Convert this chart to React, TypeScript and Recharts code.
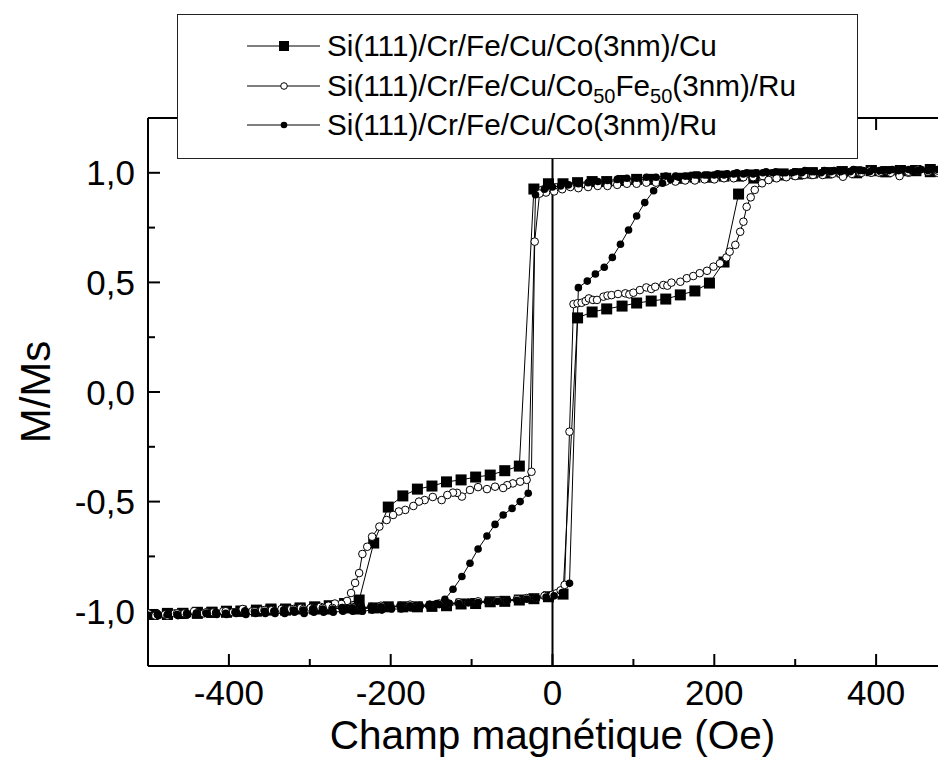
import React from 'react';
import { LineChart, Line, XAxis, YAxis, ReferenceLine, Legend } from 'recharts';

type Pt = [number, number];

// Si(111)/Cr/Fe/Cu/Co(3nm)/Cu  (filled squares)
const cuDesc: Pt[] = [
  [500, 1.01], [485, 1.01], [467, 1.005], [449, 1.01], [430, 1.01], [412, 1.005], [394, 1.01], [376, 1.0],
  [358, 1.005], [339, 1.0], [321, 1.0], [303, 0.995], [285, 0.995], [267, 0.99], [249, 0.99], [230, 0.985],
  [212, 0.985], [194, 0.98], [176, 0.98], [158, 0.975], [140, 0.975], [122, 0.97], [104, 0.97], [86, 0.965],
  [67, 0.96], [49, 0.96], [31, 0.955], [13, 0.95], [-5, 0.95], [-23, 0.926], [-41, -0.338], [-59, -0.359],
  [-77, -0.379], [-95, -0.388], [-113, -0.401], [-131, -0.41], [-149, -0.429], [-167, -0.443], [-185, -0.474],
  [-203, -0.525], [-221, -0.689], [-239, -0.949], [-257, -0.965], [-276, -0.975], [-294, -0.98], [-312, -0.985],
  [-330, -0.99], [-348, -0.99], [-366, -0.995], [-385, -1.0], [-403, -1.0], [-421, -1.005], [-439, -1.005],
  [-457, -1.01], [-476, -1.01], [-494, -1.015],
];
const cuAsc: Pt[] = [
  [-494, -1.015], [-476, -1.015], [-457, -1.01], [-439, -1.01], [-421, -1.005], [-403, -1.005], [-385, -1.0],
  [-366, -1.0], [-348, -0.995], [-330, -0.995], [-312, -0.99], [-294, -0.99], [-276, -0.99], [-257, -0.985],
  [-239, -0.99], [-221, -0.985], [-203, -0.98], [-185, -0.98], [-167, -0.98], [-149, -0.978], [-131, -0.975],
  [-113, -0.967], [-95, -0.965], [-77, -0.957], [-59, -0.955], [-41, -0.949], [-23, -0.943], [-5, -0.934],
  [13, -0.922], [31, 0.338], [49, 0.365], [67, 0.379], [86, 0.392], [104, 0.406], [122, 0.415], [140, 0.424],
  [158, 0.443], [176, 0.461], [194, 0.497], [212, 0.593], [230, 0.903], [249, 0.976], [267, 0.985], [285, 0.99],
  [303, 0.995], [321, 1.0], [339, 1.0], [358, 1.005], [376, 1.005], [394, 1.01], [412, 1.005], [430, 1.01],
  [449, 1.01], [467, 1.015], [485, 1.01], [500, 1.015],
];

// Si(111)/Cr/Fe/Cu/Co50Fe50(3nm)/Ru  (open circles)
const cofeDesc: Pt[] = [
  [500, 1.01], [488, 1.02], [476, 1.0], [464, 1.01], [452, 1.015], [440, 1.0], [428, 1.01], [416, 1.005],
  [404, 1.0], [392, 1.01], [380, 1.0], [368, 1.005], [356, 0.995], [344, 1.0], [332, 0.995], [320, 0.99],
  [308, 0.995], [296, 0.99], [284, 0.99], [272, 0.985], [260, 0.985], [248, 0.98], [236, 0.98], [224, 0.975],
  [212, 0.975], [200, 0.97], [188, 0.97], [176, 0.965], [164, 0.965], [152, 0.96], [140, 0.96], [128, 0.955],
  [116, 0.955], [104, 0.95], [92, 0.95], [80, 0.945], [68, 0.94], [56, 0.94], [44, 0.935], [32, 0.93],
  [22, 0.935], [12, 0.925], [2, 0.915], [-8, 0.91], [-16, 0.905], [-22, 0.686], [-26, -0.364], [-32, -0.401],
  [-40, -0.409], [-49, -0.417], [-56, -0.425], [-61, -0.438], [-71, -0.432], [-81, -0.443], [-92, -0.434],
  [-102, -0.447], [-112, -0.477], [-118, -0.46], [-123, -0.459], [-130, -0.47], [-137, -0.493], [-148, -0.479],
  [-158, -0.493], [-165, -0.5], [-172, -0.52], [-182, -0.538], [-190, -0.545], [-197, -0.561], [-205, -0.584],
  [-214, -0.614], [-223, -0.66], [-229, -0.706], [-235, -0.739], [-239, -0.826], [-244, -0.871], [-249, -0.917],
  [-254, -0.953], [-261, -0.967], [-269, -0.965], [-277, -0.975], [-287, -0.98], [-299, -0.985], [-311, -0.985],
  [-323, -0.99], [-335, -0.99], [-347, -0.995], [-359, -0.995], [-371, -1.0], [-383, -0.99], [-395, -1.005],
  [-407, -1.0], [-419, -1.005], [-431, -1.01], [-443, -1.0], [-455, -1.01], [-467, -1.01], [-479, -1.015],
  [-491, -1.02], [-500, -1.01],
];
const cofeAsc: Pt[] = [
  [-500, -1.02], [-488, -1.015], [-476, -1.02], [-464, -1.01], [-452, -1.015], [-440, -1.01], [-428, -1.005],
  [-416, -1.01], [-404, -1.0], [-392, -1.005], [-380, -1.0], [-368, -1.0], [-356, -0.995], [-344, -1.0],
  [-332, -0.995], [-320, -0.99], [-308, -0.99], [-296, -0.99], [-284, -0.985], [-272, -0.985], [-260, -0.985],
  [-248, -0.98], [-236, -0.985], [-224, -0.98], [-212, -0.975], [-200, -0.98], [-188, -0.975], [-176, -0.97],
  [-164, -0.975], [-152, -0.97], [-140, -0.965], [-128, -0.965], [-116, -0.96], [-104, -0.96], [-92, -0.955],
  [-80, -0.955], [-68, -0.95], [-56, -0.95], [-44, -0.945], [-32, -0.94], [-20, -0.94], [-10, -0.93], [0, -0.925],
  [5, -0.918], [10, -0.905], [15, -0.88], [21, -0.181], [26, 0.401], [31, 0.405], [36, 0.407], [41, 0.415],
  [45, 0.427], [50, 0.42], [55, 0.42], [63, 0.435], [68, 0.44], [73, 0.442], [81, 0.447], [90, 0.45], [95, 0.445],
  [100, 0.453], [108, 0.465], [116, 0.477], [122, 0.47], [127, 0.48], [137, 0.488], [142, 0.485], [147, 0.499],
  [158, 0.503], [166, 0.519], [174, 0.529], [182, 0.542], [191, 0.553], [199, 0.572], [207, 0.587], [215, 0.614],
  [219, 0.64], [226, 0.671], [232, 0.731], [236, 0.777], [240, 0.845], [245, 0.888], [250, 0.922], [259, 0.952],
  [267, 0.967], [277, 0.975], [289, 0.98], [300, 0.985], [311, 0.99], [322, 0.99], [334, 0.99], [346, 0.995],
  [359, 0.982], [370, 0.995], [382, 1.0], [394, 1.0], [406, 1.005], [418, 1.0], [429, 0.985], [440, 1.005],
  [452, 1.01], [464, 1.005], [476, 1.01], [488, 1.015], [500, 1.01],
];

// Si(111)/Cr/Fe/Cu/Co(3nm)/Ru  (filled circles)
const ruDesc: Pt[] = [
  [500, 1.015], [488, 1.01], [476, 1.015], [464, 1.01], [452, 1.01], [440, 1.015], [428, 1.01], [416, 1.01],
  [404, 1.01], [392, 1.005], [380, 1.01], [368, 1.005], [356, 1.005], [344, 1.005], [332, 1.0], [320, 1.005],
  [308, 1.0], [296, 1.0], [284, 1.0], [272, 1.0], [260, 1.0], [248, 0.995], [236, 0.995], [224, 0.995],
  [212, 0.99], [200, 0.99], [188, 0.99], [176, 0.99], [164, 0.985], [152, 0.985], [140, 0.985], [128, 0.98],
  [116, 0.98], [104, 0.975], [92, 0.975], [80, 0.97], [68, 0.965], [56, 0.96], [44, 0.955], [32, 0.95],
  [20, 0.945], [10, 0.94], [0, 0.935], [-10, 0.925], [-21, 0.9], [-30, -0.462], [-40, -0.5], [-50, -0.531],
  [-61, -0.561], [-71, -0.604], [-81, -0.657], [-92, -0.716], [-102, -0.781], [-112, -0.842], [-123, -0.9],
  [-133, -0.946], [-143, -0.965], [-153, -0.975], [-164, -0.98], [-175, -0.985], [-187, -0.99], [-199, -0.99],
  [-211, -0.995], [-223, -0.995], [-235, -1.0], [-247, -1.0], [-259, -1.0], [-271, -1.005], [-283, -1.005],
  [-295, -1.005], [-307, -1.01], [-319, -1.005], [-331, -1.01], [-343, -1.01], [-355, -1.01], [-367, -1.01],
  [-379, -1.015], [-391, -1.01], [-403, -1.015], [-415, -1.015], [-427, -1.01], [-439, -1.015], [-451, -1.015],
  [-463, -1.02], [-475, -1.015], [-487, -1.02], [-500, -1.02],
];
const ruAsc: Pt[] = [
  [-500, -1.02], [-488, -1.015], [-476, -1.015], [-464, -1.015], [-452, -1.01], [-440, -1.01], [-428, -1.01],
  [-416, -1.005], [-404, -1.01], [-392, -1.005], [-380, -1.0], [-368, -1.005], [-356, -1.0], [-344, -1.0],
  [-332, -0.995], [-320, -0.995], [-308, -0.995], [-296, -0.99], [-284, -0.99], [-272, -0.99], [-260, -0.985],
  [-248, -0.985], [-236, -0.985], [-224, -0.98], [-212, -0.98], [-200, -0.98], [-188, -0.975], [-176, -0.975],
  [-164, -0.975], [-152, -0.97], [-140, -0.97], [-128, -0.965], [-116, -0.965], [-104, -0.96], [-92, -0.96],
  [-80, -0.955], [-68, -0.955], [-56, -0.95], [-44, -0.95], [-32, -0.945], [-20, -0.94], [-8, -0.935], [2, -0.93],
  [12, -0.915], [21, -0.873], [32, 0.476], [43, 0.506], [53, 0.538], [64, 0.569], [74, 0.614], [84, 0.674],
  [94, 0.739], [104, 0.803], [114, 0.864], [125, 0.918], [136, 0.952], [146, 0.97], [156, 0.98], [168, 0.985],
  [180, 0.99], [192, 0.99], [204, 0.995], [216, 0.995], [228, 1.0], [240, 1.0], [252, 1.0], [264, 1.005],
  [276, 1.005], [288, 1.0], [300, 1.005], [312, 1.01], [324, 1.005], [336, 1.01], [348, 1.01], [360, 1.01],
  [372, 1.015], [384, 1.01], [396, 1.015], [408, 1.01], [420, 1.015], [432, 1.015], [444, 1.01], [456, 1.015],
  [468, 1.02], [480, 1.015], [492, 1.02], [500, 1.015],
];

const xTicks = [-400, -300, -200, -100, 0, 100, 200, 300, 400];
const xMajor = [-400, -200, 0, 200, 400];
const yTicks = [-1, -0.75, -0.5, -0.25, 0, 0.25, 0.5, 0.75, 1];
const yMajor = [-1, -0.5, 0, 0.5, 1];
const xDomain: [number, number] = [-500, 500];
const yDomain: [number, number] = [-1.25, 1.25];

const xTitle = 'Champ magnétique (Oe)';
const yTitle = 'M/Ms';

const toRows = (a: Pt[]) => a.map(([x, y]) => ({ x, y }));
const cuData = toRows([...cuDesc, ...cuAsc]);
const cofeData = toRows([...cofeDesc, ...cofeAsc]);
const ruData = toRows([...ruDesc, ...ruAsc]);

const FONT = "'Liberation Sans', Arial, Helvetica, sans-serif";
const fmtY = (v: number) => v.toFixed(1).replace('.', ',');
const isMajorY = (v: number) => yMajor.some((m) => Math.abs(m - v) < 1e-9);
const isMajorX = (v: number) => xMajor.includes(v);

// tick lengths expressed through the axes' scales (plot is 809px for 1000 Oe, 548px for 2.5 units)
const PX_PER_OE = 809 / 1000;
const PX_PER_UNIT = 548 / 2.5;
const xLen = (px: number) => px / PX_PER_OE;
const yLen = (px: number) => px / PX_PER_UNIT;

const squareDot = (p: any) =>
  p.cx == null ? <g key={`sq-${p.index}`} /> : (
    <rect key={`sq-${p.index}`} x={p.cx - 5.5} y={p.cy - 5.5} width={11} height={11} fill="#000" />
  );
const openDot = (p: any) =>
  p.cx == null ? <g key={`oc-${p.index}`} /> : (
    <circle key={`oc-${p.index}`} cx={p.cx} cy={p.cy} r={3.8} fill="#fff" stroke="#000" strokeWidth={1} />
  );
const fullDot = (p: any) =>
  p.cx == null ? <g key={`fc-${p.index}`} /> : (
    <circle key={`fc-${p.index}`} cx={p.cx} cy={p.cy} r={3.8} fill="#000" />
  );

const BottomTick = (p: any) => {
  const v = p.payload.value;
  if (!isMajorX(v)) return <g />;
  return (
    <text x={p.x} y={p.y + 39} textAnchor="middle" fontSize={35} fontFamily={FONT} fill="#000">
      {String(v)}
    </text>
  );
};
const LeftTick = (p: any) => {
  const v = p.payload.value;
  if (!isMajorY(v)) return <g />;
  return (
    <text x={p.x - 13} y={p.y + 12.5} textAnchor="end" fontSize={35} fontFamily={FONT} fill="#000">
      {fmtY(v)}
    </text>
  );
};

const XTitle = () => (
  <text x={544.5} y={741} textAnchor="middle" fontSize={40.5} fontFamily={FONT} fill="#000">
    {xTitle}
  </text>
);
const YTitle = () => (
  <text
    x={42}
    y={384}
    transform="rotate(-90 42 384)"
    textAnchor="middle"
    fontSize={42}
    fontFamily={FONT}
    fill="#000"
  >
    {yTitle}
  </text>
);

const Row = ({ top, marker, children }: { top: number; marker: React.ReactNode; children: React.ReactNode }) => (
  <div style={{ position: 'absolute', left: 0, top, height: 30, width: '100%' }}>
    <svg width={80} height={30} style={{ position: 'absolute', left: 66, top: 0 }}>
      <line x1={3} x2={76} y1={15} y2={15} stroke="#000" strokeWidth={1} />
      {marker}
    </svg>
    <div
      style={{
        position: 'absolute',
        left: 149,
        top: 0,
        lineHeight: '30px',
        fontSize: 29.7,
        whiteSpace: 'nowrap',
        fontFamily: FONT,
        color: '#000',
      }}
    >
      {children}
    </div>
  </div>
);

const sub = (t: string) => (
  <span style={{ fontSize: 20, position: 'relative', top: 7 }}>{t}</span>
);

const LegendBox = () => (
  <div
    style={{
      boxSizing: 'border-box',
      width: 681,
      height: 145,
      border: '1.5px solid #222',
      background: '#fff',
      position: 'relative',
    }}
  >
    <Row top={16} marker={<rect x={35} y={10} width={10} height={10} fill="#000" />}>
      Si(111)/Cr/Fe/Cu/Co(3nm)/Cu
    </Row>
    <Row top={56} marker={<circle cx={40} cy={15} r={3.3} fill="#fff" stroke="#000" strokeWidth={1} />}>
      Si(111)/Cr/Fe/Cu/Co{sub('50')}Fe{sub('50')}(3nm)/Ru
    </Row>
    <Row top={95} marker={<circle cx={40} cy={15} r={3.3} fill="#000" />}>
      Si(111)/Cr/Fe/Cu/Co(3nm)/Ru
    </Row>
  </div>
);

const tickStroke = { stroke: '#000', strokeWidth: 2, ifOverflow: 'visible' as const };

export default function App() {
  const [x0, x1] = xDomain;
  const [y0, y1] = yDomain;
  return (
    <div style={{ width: 938, height: 752, overflow: 'hidden', position: 'relative', background: '#fff' }}>
      <style>{'html,body{overflow:hidden;background:#fff}'}</style>
      <LineChart width={960} height={752} margin={{ top: 109, right: 10, bottom: 0, left: 80 }}>
        <XAxis
          xAxisId="bottom"
          type="number"
          dataKey="x"
          domain={xDomain}
          allowDataOverflow
          ticks={xTicks}
          interval={0}
          tickSize={0}
          tickMargin={0}
          tickLine={false}
          tick={BottomTick}
          axisLine={{ stroke: '#000', strokeWidth: 2 }}
          height={94}
          label={<XTitle />}
        />
        <XAxis
          xAxisId="top"
          orientation="top"
          type="number"
          domain={xDomain}
          allowDataOverflow
          ticks={xTicks}
          tick={false}
          tickLine={false}
          axisLine={{ stroke: '#000', strokeWidth: 2 }}
          height={1}
        />
        <YAxis
          yAxisId="left"
          type="number"
          domain={yDomain}
          allowDataOverflow
          ticks={yTicks}
          interval={0}
          tickSize={0}
          tickMargin={0}
          tickLine={false}
          tick={LeftTick}
          axisLine={{ stroke: '#000', strokeWidth: 2 }}
          width={60}
          label={<YTitle />}
        />
        <YAxis
          yAxisId="right"
          orientation="right"
          type="number"
          domain={yDomain}
          allowDataOverflow
          ticks={yTicks}
          tick={false}
          tickLine={false}
          axisLine={{ stroke: '#000', strokeWidth: 2 }}
          width={1}
        />
        <ReferenceLine x={0} xAxisId="bottom" yAxisId="left" stroke="#000" strokeWidth={2} />
        {xTicks.map((v) => (
          <ReferenceLine
            key={`bt${v}`}
            xAxisId="bottom"
            yAxisId="left"
            {...tickStroke}
            segment={[{ x: v, y: y0 }, { x: v, y: y0 + yLen(isMajorX(v) ? 12 : 7) }]}
          />
        ))}
        {xTicks.map((v) => (
          <ReferenceLine
            key={`tt${v}`}
            xAxisId="bottom"
            yAxisId="left"
            {...tickStroke}
            segment={[{ x: v, y: y1 }, { x: v, y: y1 - yLen(isMajorX(v) ? 12 : 7) }]}
          />
        ))}
        {yTicks.map((v) => (
          <ReferenceLine
            key={`lt${v}`}
            xAxisId="bottom"
            yAxisId="left"
            {...tickStroke}
            segment={[{ x: x0, y: v }, { x: x0 + xLen(isMajorY(v) ? 12 : 7), y: v }]}
          />
        ))}
        {yTicks.map((v) => (
          <ReferenceLine
            key={`rt${v}`}
            xAxisId="bottom"
            yAxisId="left"
            {...tickStroke}
            segment={[{ x: x1, y: v }, { x: x1 - xLen(isMajorY(v) ? 12 : 7), y: v }]}
          />
        ))}
        <Line
          xAxisId="bottom"
          yAxisId="left"
          data={cuData}
          dataKey="y"
          type="linear"
          stroke="#000"
          strokeWidth={1}
          dot={squareDot}
          activeDot={false}
          isAnimationActive={false}
          name="Si(111)/Cr/Fe/Cu/Co(3nm)/Cu"
        />
        <Line
          xAxisId="bottom"
          yAxisId="left"
          data={cofeData}
          dataKey="y"
          type="linear"
          stroke="#000"
          strokeWidth={1}
          dot={openDot}
          activeDot={false}
          isAnimationActive={false}
          name="Si(111)/Cr/Fe/Cu/Co50Fe50(3nm)/Ru"
        />
        <Line
          xAxisId="bottom"
          yAxisId="left"
          data={ruData}
          dataKey="y"
          type="linear"
          stroke="#000"
          strokeWidth={1}
          dot={fullDot}
          activeDot={false}
          isAnimationActive={false}
          name="Si(111)/Cr/Fe/Cu/Co(3nm)/Ru"
        />
        <Legend
          layout="vertical"
          align="center"
          verticalAlign="middle"
          content={() => <LegendBox />}
          wrapperStyle={{ left: 169, top: 6, width: 681, height: 145, right: 'auto', bottom: 'auto' }}
        />
      </LineChart>
    </div>
  );
}
